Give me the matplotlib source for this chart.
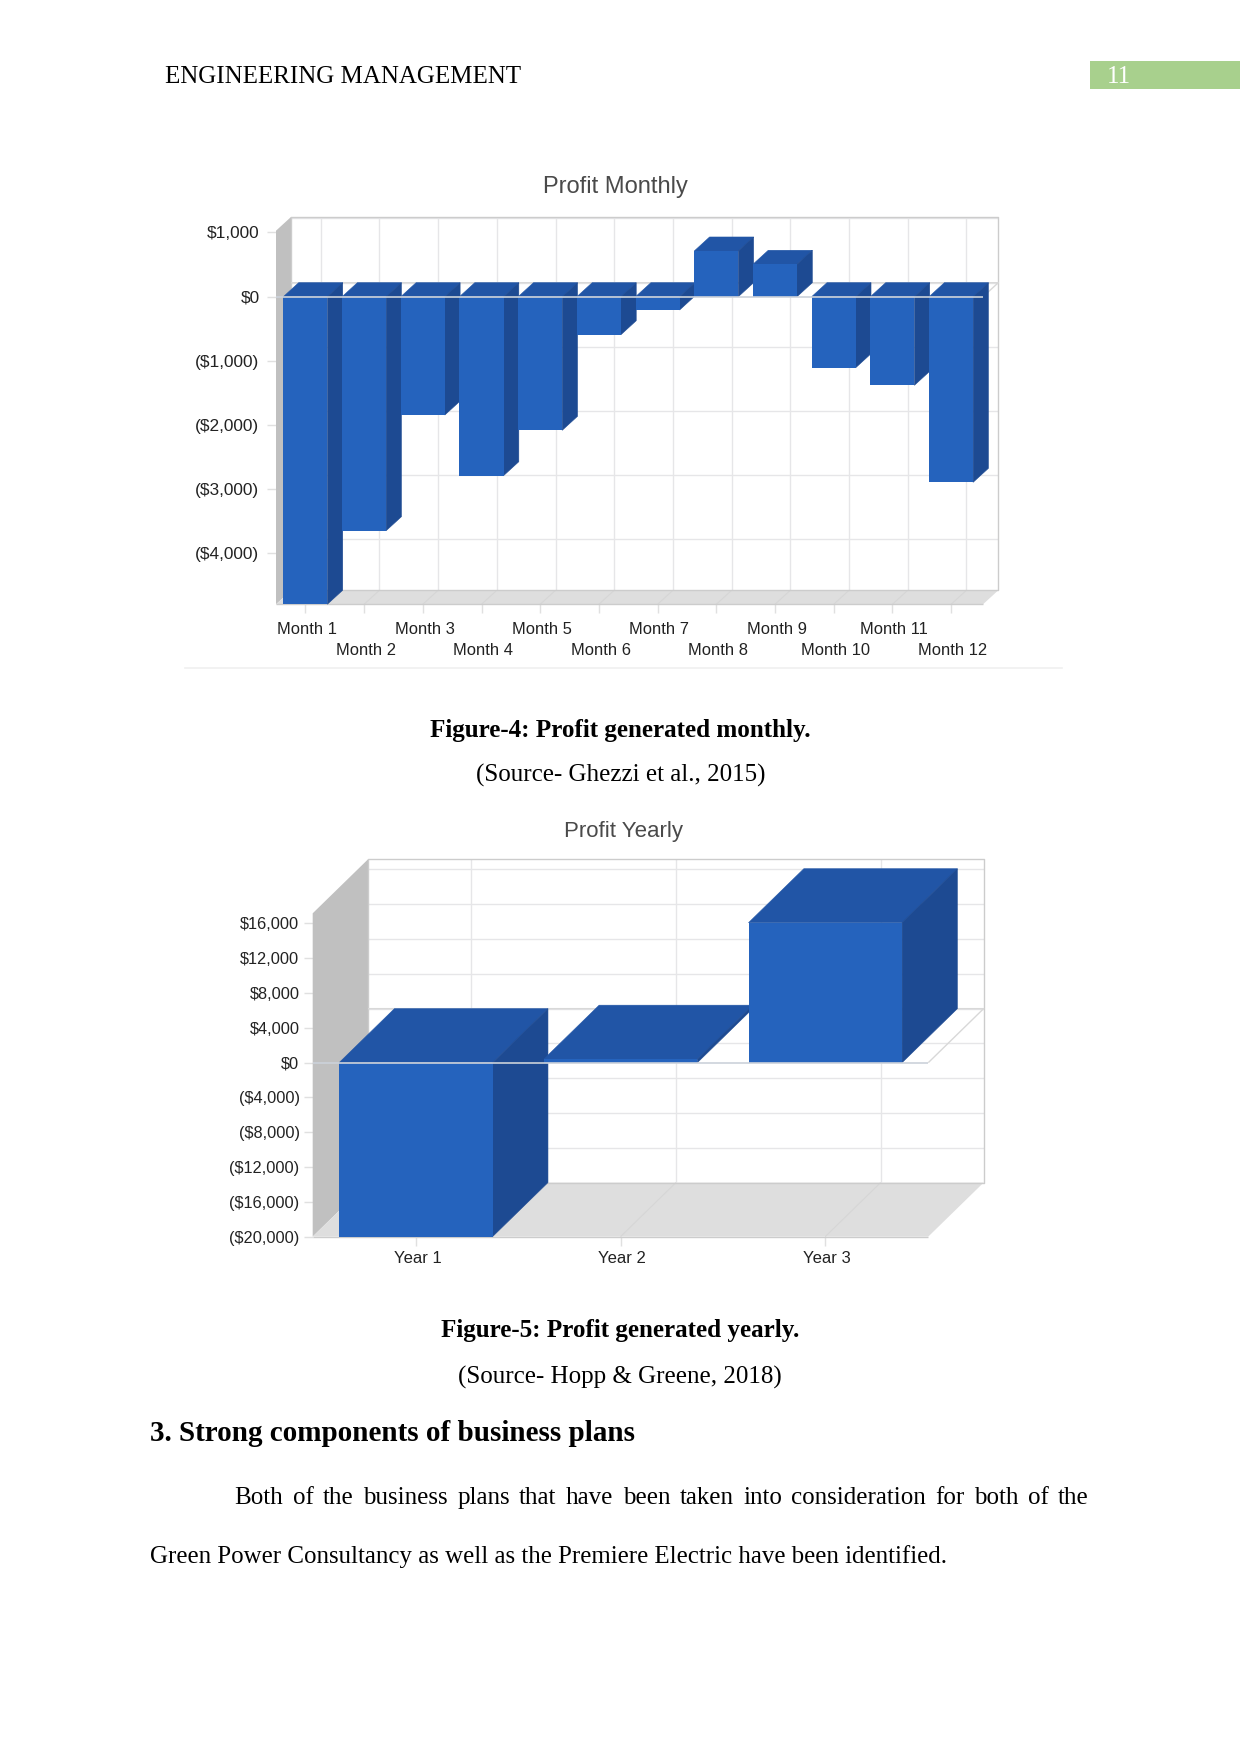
import matplotlib
matplotlib.use("Agg")
import matplotlib.pyplot as plt
from matplotlib.transforms import ScaledTranslation

W, H = 1241, 1754

# monthly chart
months = ["Month %d" % i for i in range(1, 13)]
monthly_profit = [-4790, -3645, -1843, -2788, -2081, -592, -207, 712, 505, -1106, -1380, -2891]
monthly_ticks = [1000, 0, -1000, -2000, -3000, -4000]
monthly_tick_labels = ["$1,000", "$0", "($1,000)", "($2,000)", "($3,000)", "($4,000)"]

# yearly chart
years = ["Year 1", "Year 2", "Year 3"]
yearly_profit = [-19980, 400, 16080]
yearly_ticks = [16000, 12000, 8000, 4000, 0, -4000, -8000, -12000, -16000, -20000]
yearly_tick_labels = ["$16,000", "$12,000", "$8,000", "$4,000", "$0", "($4,000)",
                      "($8,000)", "($12,000)", "($16,000)", "($20,000)"]

FRONT = "#2563bd"
TOP = "#2155a6"
SIDE = "#1d4a92"
WALL = "#c0c0c0"
FLOOR = "#dedede"
GRID = "#e6e6e8"
EDGE = "#cccccc"
SANS = "Liberation Sans"
SERIF = "Liberation Serif"

fig = plt.figure(figsize=(W / 100, H / 100), dpi=100, facecolor="white")


def page_text(x, y, s, **kw):
    kw.setdefault("family", SERIF)
    kw.setdefault("color", "black")
    kw.setdefault("va", "center")
    return fig.text(x / W, 1 - y / H, s, **kw)


def justified(x0, x1, y, line, size):
    words = line.split()
    renderer = fig.canvas.get_renderer()
    items = [page_text(x0, y, w, fontsize=size) for w in words]
    widths = [t.get_window_extent(renderer).width for t in items]
    gap = (x1 - x0 - sum(widths)) / (len(words) - 1)
    x = x0
    for t, w in zip(items, widths):
        t.set_x(x / W)
        x += w + gap


def chart_3d(box, zero_px, cats, values, ticks, tick_labels, center0, pitch, px_per_unit, depth,
             title, title_xy, title_size, xsize, ysize, xpad, ypad, row_step=None):
    left, right, top, bottom = box
    ax = fig.add_axes([left / W, 1 - bottom / H, (right - left) / W, (bottom - top) / H])
    ax.patch.set_visible(False)
    for sp in ax.spines.values():
        sp.set_visible(False)

    x0 = (left - center0) / pitch
    x1 = (right - center0) / pitch
    y_top = (zero_px - top) / px_per_unit
    y_bot = (zero_px - bottom) / px_per_unit
    ax.set_xlim(x0, x1)
    ax.set_ylim(y_bot, y_top)
    dx = depth[0] / pitch
    dy = depth[1] / px_per_unit

    def fill(xs, ys, color, z, lw=0.0):
        ax.fill(xs, ys, color=color, zorder=z, clip_on=False, linewidth=lw)

    def line(xs, ys, color, z, lw=1.0):
        ax.plot(xs, ys, color=color, lw=lw, zorder=z, clip_on=False, solid_capstyle="butt")

    # back wall, side wall and floor
    fill([x0 + dx, x1 + dx, x1 + dx, x0 + dx], [y_bot + dy, y_bot + dy, y_top + dy, y_top + dy], "white", 1)
    fill([x0, x0 + dx, x0 + dx, x0], [y_bot, y_bot + dy, y_top + dy, y_top], WALL, 2)
    fill([x0, x0 + dx, x1 + dx, x1], [y_bot, y_bot + dy, y_bot + dy, y_bot], FLOOR, 2)

    for t in ticks:
        if y_bot < t:
            line([x0 + dx, x1 + dx], [t + dy, t + dy], GRID, 3)
    for i in range(len(cats)):
        line([i + dx, i + dx], [y_bot + dy, y_top + dy], GRID, 3)
        line([i, i + dx], [y_bot, y_bot + dy], "#d6d6d6", 3, 0.8)

    line([x0 + dx, x1 + dx, x1 + dx, x0 + dx, x0 + dx],
         [y_bot + dy, y_bot + dy, y_top + dy, y_top + dy, y_bot + dy], EDGE, 4)
    line([x0, x1], [y_bot, y_bot], EDGE, 4)

    # zero plane outline, behind the bars
    line([x0 + dx, x1 + dx, x1], [dy, dy, 0], "#d8d8d8", 4)

    w = 0.75
    for i, v in enumerate(values):
        z = 10 + i
        l, r = i - w / 2, i + w / 2
        ax.bar(i, v, width=w, color=FRONT, linewidth=0, zorder=z + 0.2, clip_on=False)
        hi = max(v, 0)
        lo = min(v, 0)
        fill([l, l + dx, r + dx, r], [hi, hi + dy, hi + dy, hi], TOP, z, 0.4)
        fill([r, r + dx, r + dx, r], [lo, lo + dy, hi + dy, hi], SIDE, z + 0.1, 0.4)

    # front edge of the zero plane runs over the bars
    line([x0, x1], [0, 0], "#ccd2da", 40, 1.2)

    # alternate labels go on a second row when row_step is given
    if row_step:
        ax.set_xticks(range(0, len(cats), 2), cats[::2])
        ax.set_xticks(range(1, len(cats), 2), cats[1::2], minor=True)
    else:
        ax.set_xticks(range(len(cats)), cats)
    ax.set_yticks(ticks)
    ax.set_yticklabels(tick_labels)
    ax.tick_params(axis="both", which="both", color="#e0e0e0", length=6.5, width=1, labelcolor="#222222")
    ax.tick_params(axis="x", labelsize=xsize, pad=xpad)
    ax.tick_params(axis="x", which="minor", labelsize=xsize, pad=xpad + (row_step or 0))
    ax.tick_params(axis="y", labelsize=ysize, pad=ypad)
    nudge = ScaledTranslation(1.8 / 100, 0, fig.dpi_scale_trans)
    xlabels = ax.get_xticklabels() + ax.get_xticklabels(minor=True)
    for lab in xlabels:
        lab.set_transform(lab.get_transform() + nudge)
    for lab in xlabels + ax.get_yticklabels():
        lab.set_family(SANS)
    page_text(title_xy[0], title_xy[1], title, family=SANS, fontsize=title_size, color="#4a4a4a", ha="center")
    return ax


ax1 = chart_3d((276, 983, 230.7, 604.3), 296.7, months, monthly_profit, monthly_ticks, monthly_tick_labels,
               305.4, 58.7, 64.2 / 1000, (15.3, 14), "Profit Monthly", (615.5, 187), 17, 11.9, 12.4, 6, 5.4,
               row_step=15.7)

ax2 = chart_3d((312.7, 928.3, 913.3, 1236.7), 1062.7, years, yearly_profit, yearly_ticks, yearly_tick_labels,
               415.9, 204.7, 8.706 / 1000, (55.3, 54), "Profit Yearly", (624, 831.5), 16, 12, 11.8, 4, 3)

# faint rule under the monthly chart
fig.add_artist(plt.Line2D([185 / W, 1062 / W], [1 - 667.5 / H] * 2, color="#f0f0f0", lw=1.2))

# header
page_text(165, 77, "ENGINEERING MANAGEMENT", fontsize=18)
fig.add_artist(plt.Rectangle((1090 / W, 1 - 89.3 / H), 150 / W, 28.6 / H, transform=fig.transFigure,
                             facecolor="#a8d08d", edgecolor="none"))
page_text(1118.5, 77, "11", fontsize=18, color="white", ha="center")

# captions
page_text(620, 730, "Figure-4: Profit generated monthly.", fontsize=18.1, weight="bold", ha="center")
page_text(620.5, 775, "(Source- Ghezzi et al., 2015)", fontsize=18, ha="center")
page_text(620, 1331, "Figure-5: Profit generated yearly.", fontsize=18.1, weight="bold", ha="center")
page_text(620, 1377, "(Source- Hopp & Greene, 2018)", fontsize=18, ha="center")

page_text(150, 1433.5, "3. Strong components of business plans", fontsize=21, weight="bold")
fig.canvas.draw()
justified(234.5, 1089, 1498, "Both of the business plans that have been taken into consideration for both of the", 18)
page_text(150, 1556.5, "Green Power Consultancy as well as the Premiere Electric have been identified.", fontsize=17.95)

fig.savefig("out.png", dpi=100)
